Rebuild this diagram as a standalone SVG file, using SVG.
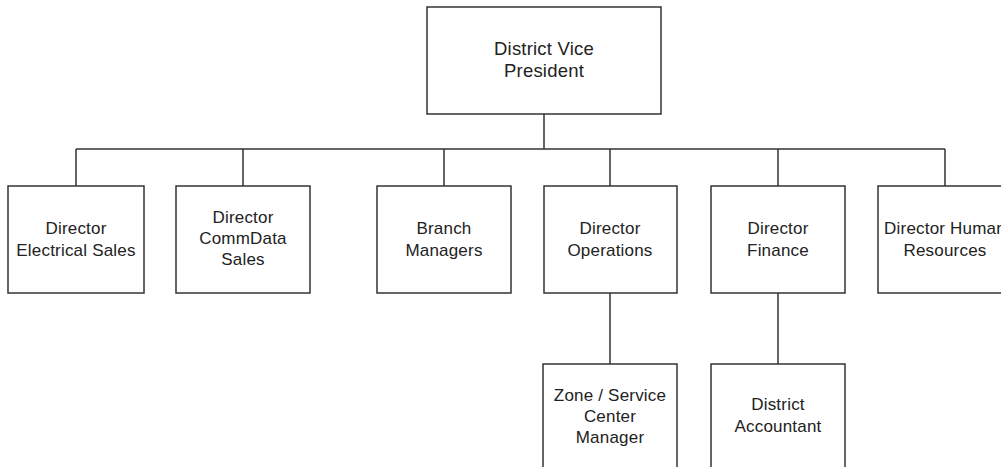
<svg xmlns="http://www.w3.org/2000/svg" width="1001" height="467" viewBox="0 0 1001 467">
<style>
.box{fill:#fff;stroke:#333;stroke-width:1.5}
.t{font-family:"Liberation Sans",Arial,sans-serif;font-size:17px;letter-spacing:0.2px;fill:#222;text-anchor:middle}
.tt{font-size:18.5px}
.c{fill:none;stroke:#333;stroke-width:1.5}
</style>
<rect width="1001" height="467" fill="#fff"/>
<g id="connectors">
<path class="c" d="M544 114V149M76 149H945M76 149V186M243 149V186M444 149V186M610 149V186M778 149V186M945 149V186M610 293V364M778 293V364"/>
</g>
<g id="vp"><rect class="box" x="427" y="7" width="234" height="107"/><text class="t tt" x="544" y="55">District Vice</text><text class="t tt" x="544" y="77">President</text></g>
<g id="elec"><rect class="box" x="8" y="186" width="136" height="107"/><text class="t" x="76" y="234">Director</text><text class="t" x="76" y="256">Electrical Sales</text></g>
<g id="comm"><rect class="box" x="176" y="186" width="134" height="107"/><text class="t" x="243" y="223">Director</text><text class="t" x="243" y="244">CommData</text><text class="t" x="243" y="265">Sales</text></g>
<g id="branch"><rect class="box" x="377" y="186" width="134" height="107"/><text class="t" x="444" y="234">Branch</text><text class="t" x="444" y="256">Managers</text></g>
<g id="ops"><rect class="box" x="544" y="186" width="133" height="107"/><text class="t" x="610" y="234">Director</text><text class="t" x="610" y="256">Operations</text></g>
<g id="fin"><rect class="box" x="711" y="186" width="134" height="107"/><text class="t" x="778" y="234">Director</text><text class="t" x="778" y="256">Finance</text></g>
<g id="hr"><rect class="box" x="878" y="186" width="134" height="107"/><text class="t" x="945" y="234">Director Human</text><text class="t" x="945" y="256">Resources</text></g>
<g id="zone"><rect class="box" x="543" y="364" width="134" height="110"/><text class="t" x="610" y="401">Zone / Service</text><text class="t" x="610" y="422">Center</text><text class="t" x="610" y="443">Manager</text></g>
<g id="acct"><rect class="box" x="711" y="364" width="134" height="110"/><text class="t" x="778" y="410">District</text><text class="t" x="778" y="432">Accountant</text></g>
</svg>
